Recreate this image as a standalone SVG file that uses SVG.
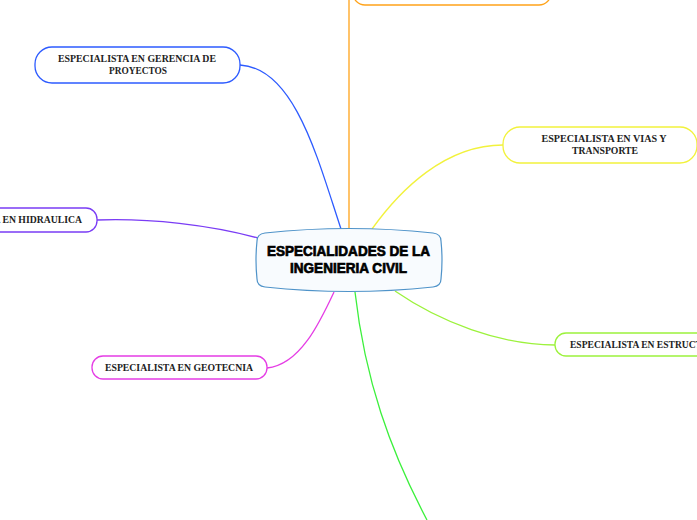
<svg xmlns="http://www.w3.org/2000/svg" width="697" height="520" viewBox="0 0 697 520">
<style>
.lbl{font-family:"Liberation Serif","Times New Roman",serif;font-weight:bold;font-size:9.5px;fill:#222;}
.ttl{font-family:"Liberation Sans",Arial,sans-serif;font-weight:900;font-size:14.5px;fill:#000;stroke:#000;stroke-width:0.7px;}
.node{fill:#fff;stroke-width:1.3;}
.conn{fill:none;stroke-width:1.3;}
</style>
<rect width="697" height="520" fill="#fff"/>
<g id="connectors">
<path class="conn" stroke="#2d5bff" d="M240 65 C 295 68, 318 160, 341 229"/>
<path class="conn" stroke="#ffa31a" d="M349 0 L349 229"/>
<path class="conn" stroke="#f2f23c" d="M503 145 C 445 145, 400 190, 372 229"/>
<path class="conn" stroke="#7a3cf5" d="M97 220 C 150 218, 210 225, 258 238"/>
<path class="conn" stroke="#e53de5" d="M267 368 C 300 365, 320 322, 334 292"/>
<path class="conn" stroke="#9cf23c" d="M555 345 C 500 345, 440 322, 395 291"/>
<path class="conn" stroke="#3cf03c" d="M355 292 C 365 380, 390 450, 427 520"/>
</g>
<g id="node-orange">
<rect class="node" stroke="#ffa31a" x="353" y="-30" width="198" height="35" rx="12"/>
</g>
<g id="node-gerencia">
<rect class="node" stroke="#2d5bff" x="35" y="47" width="205" height="36" rx="17"/>
<text class="lbl" x="137" y="62" text-anchor="middle" textLength="158" lengthAdjust="spacingAndGlyphs">ESPECIALISTA EN GERENCIA DE</text>
<text class="lbl" x="138" y="74" text-anchor="middle" textLength="58" lengthAdjust="spacingAndGlyphs">PROYECTOS</text>
</g>
<g id="node-hidraulica">
<rect class="node" stroke="#7a3cf5" x="-90" y="208" width="187" height="24" rx="11"/>
<text class="lbl" x="82" y="223" text-anchor="end" textLength="152" lengthAdjust="spacingAndGlyphs">ESPECIALISTA EN HIDRAULICA</text>
</g>
<g id="node-geotecnia">
<rect class="node" stroke="#e53de5" x="92" y="356" width="175" height="23" rx="11"/>
<text class="lbl" x="179" y="371" text-anchor="middle" textLength="148" lengthAdjust="spacingAndGlyphs">ESPECIALISTA EN GEOTECNIA</text>
</g>
<g id="node-vias">
<rect class="node" stroke="#f2f23c" x="503" y="127" width="194" height="36" rx="17"/>
<text class="lbl" x="604" y="142" text-anchor="middle" textLength="125" lengthAdjust="spacingAndGlyphs">ESPECIALISTA EN VIAS Y</text>
<text class="lbl" x="605" y="154" text-anchor="middle" textLength="66" lengthAdjust="spacingAndGlyphs">TRANSPORTE</text>
</g>
<g id="node-estructuras">
<rect class="node" stroke="#9cf23c" x="555" y="333" width="200" height="23" rx="11"/>
<text class="lbl" x="570" y="348" textLength="158" lengthAdjust="spacingAndGlyphs">ESPECIALISTA EN ESTRUCTURAS</text>
</g>
<g id="node-central">
<path fill="#f8fbfe" stroke="#4f93c9" stroke-width="1.2" d="M265 233 Q 349 224 433 233 Q 441 234 441 241 Q 443 260 441 279 Q 441 286 433 287 Q 349 296 265 287 Q 257 286 257 279 Q 255 260 257 241 Q 257 234 265 233 Z"/>
<text class="ttl" x="348.5" y="256" text-anchor="middle" textLength="163" lengthAdjust="spacingAndGlyphs">ESPECIALIDADES DE LA</text>
<text class="ttl" x="348.5" y="273" text-anchor="middle" textLength="117" lengthAdjust="spacingAndGlyphs">INGENIERIA CIVIL</text>
</g>
</svg>
